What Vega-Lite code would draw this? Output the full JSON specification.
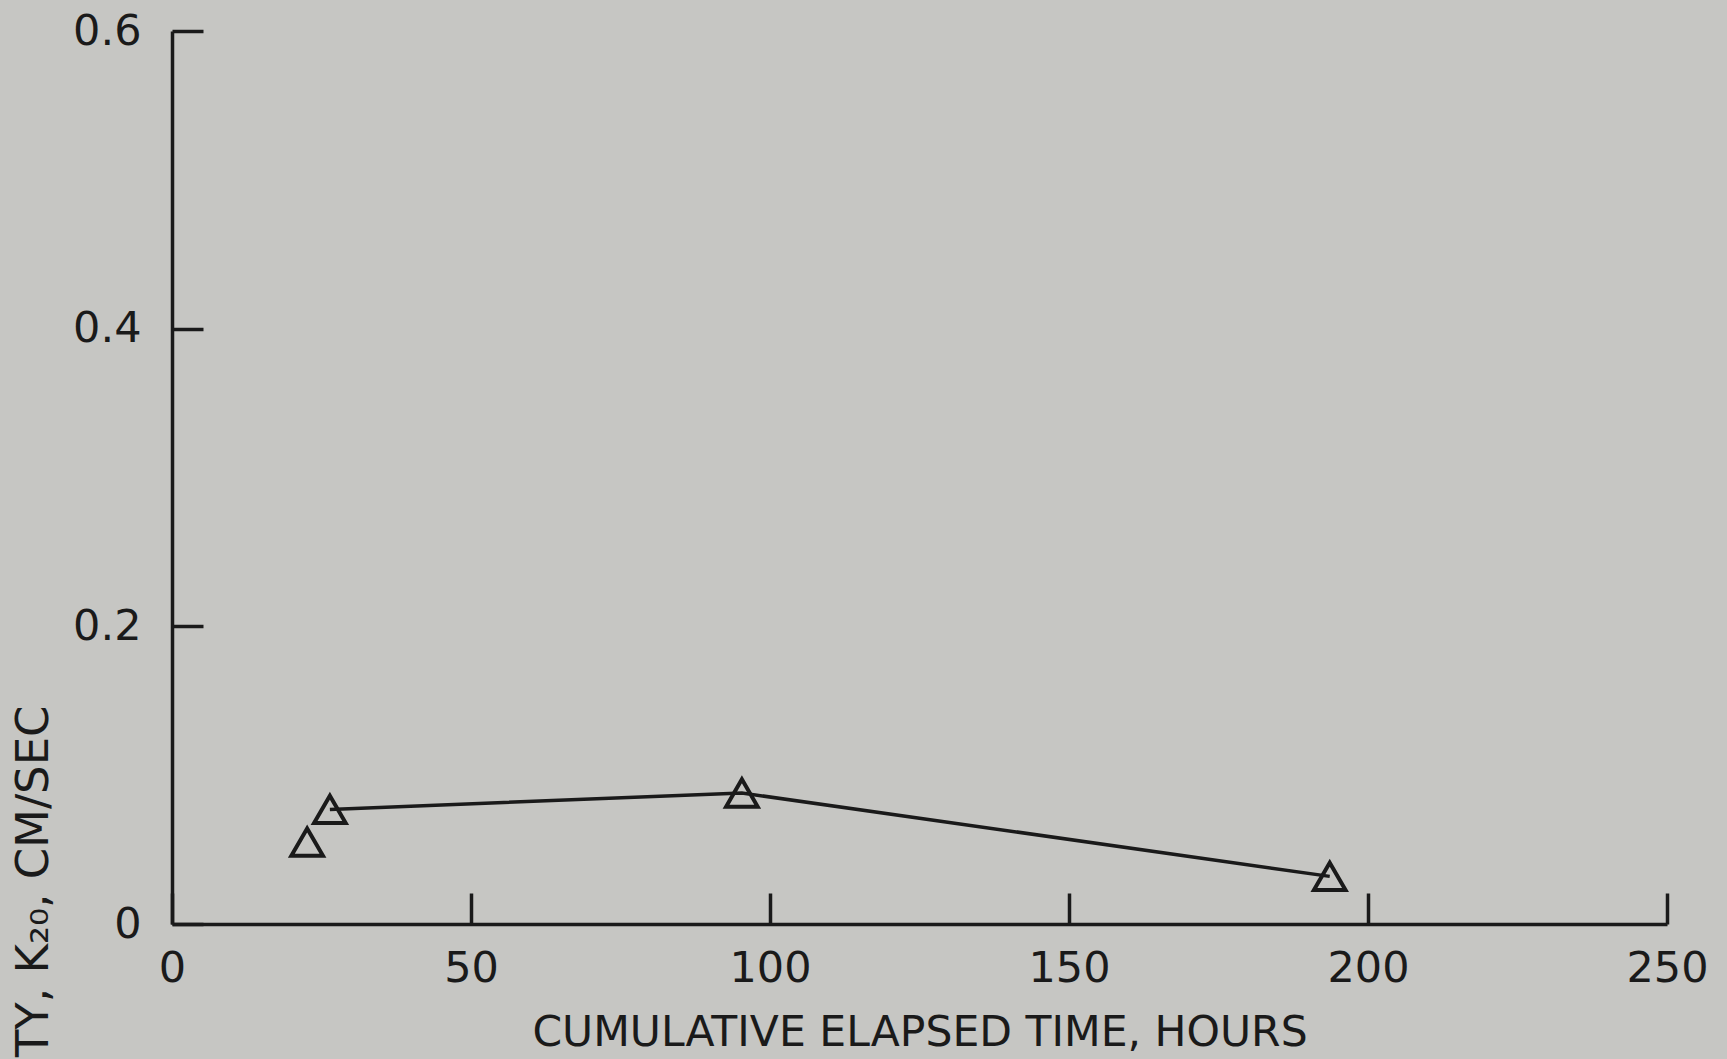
{
  "$schema": "https://vega.github.io/schema/vega-lite/v6.json",
  "autosize": {"type": "none"},
  "padding": {"left": 172, "top": 31, "right": 60, "bottom": 135},
  "width": 1495,
  "height": 893,
  "background": "#c6c6c3",
  "config": {
    "view": {"stroke": null},
    "font": "DejaVu Sans"
  },
  "data": {
    "values": [
      {"hours": 22.6, "k": 0.055, "seg": "a"},
      {"hours": 26.4, "k": 0.077, "seg": "b"},
      {"hours": 95.3, "k": 0.088, "seg": "b"},
      {"hours": 193.6, "k": 0.032, "seg": "b"}
    ]
  },
  "encoding": {
    "x": {
      "field": "hours",
      "type": "quantitative",
      "scale": {"domain": [0, 250], "nice": false, "zero": true},
      "axis": {
        "values": [0, 50, 100, 150, 200, 250],
        "grid": false,
        "title": "CUMULATIVE ELAPSED TIME, HOURS",
        "titleFont": "DejaVu Sans",
        "titleFontSize": 42.5,
        "titleFontWeight": "normal",
        "titleColor": "#1a1a1a",
        "titleY": 121,
        "titleBaseline": "alphabetic",
        "labelFont": "DejaVu Sans",
        "labelFontSize": 43,
        "labelColor": "#1a1a1a",
        "labelPadding": 54,
        "labelFlush": false,
        "labelOverlap": false,
        "domainColor": "#1a1a1a",
        "domainWidth": 3.5,
        "tickColor": "#1a1a1a",
        "tickWidth": 3.5,
        "tickSize": -31
      }
    },
    "y": {
      "field": "k",
      "type": "quantitative",
      "scale": {"domain": [0, 0.6], "nice": false},
      "axis": {
        "values": [0, 0.2, 0.4, 0.6],
        "labelExpr": "datum.value == 0 ? '0' : format(datum.value, '.1f')",
        "grid": false,
        "title": "PERMEABILITY, K₂₀, CM/SEC",
        "titleFont": "DejaVu Sans",
        "titleFontSize": 45,
        "titleFontWeight": "normal",
        "titleColor": "#1a1a1a",
        "titleAngle": 270,
        "titleAlign": "right",
        "titleBaseline": "middle",
        "titleX": -139,
        "titleY": 674,
        "labelFont": "DejaVu Sans",
        "labelFontSize": 43,
        "labelColor": "#1a1a1a",
        "labelPadding": 62,
        "labelFlush": false,
        "labelOverlap": false,
        "domainColor": "#1a1a1a",
        "domainWidth": 3.5,
        "tickColor": "#1a1a1a",
        "tickWidth": 3.5,
        "tickSize": -31
      }
    }
  },
  "layer": [
    {
      "mark": {"type": "line", "color": "#1a1a1a", "strokeWidth": 3.5},
      "encoding": {"detail": {"field": "seg", "type": "nominal"}}
    },
    {
      "mark": {"type": "point", "shape": "triangle-up", "size": 1000, "filled": false, "stroke": "#1a1a1a", "strokeWidth": 4, "fill": "#c6c6c3", "fillOpacity": 0},
      "encoding": {}
    }
  ]
}
